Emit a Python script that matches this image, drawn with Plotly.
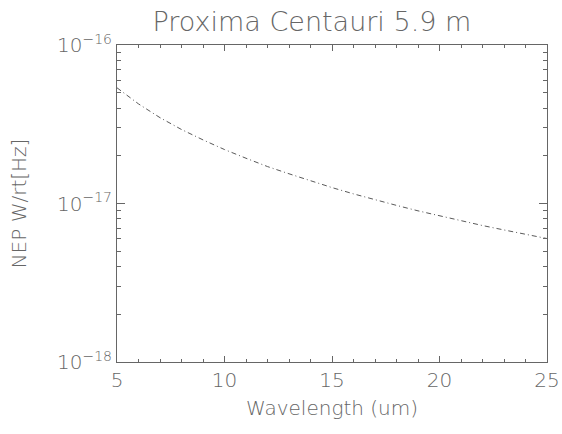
import plotly.graph_objects as go

wavelength = [5, 6, 7, 8, 9, 10, 11, 12, 13, 14, 15, 16, 17, 18, 19, 20, 21, 22, 23, 24, 25]
nep_e17 = [5.37, 4.25, 3.48, 2.93, 2.52, 2.19, 1.93, 1.71, 1.54, 1.39, 1.26, 1.15,
           1.054, 0.973, 0.899, 0.836, 0.778, 0.726, 0.681, 0.638, 0.601]
nep = [v * 1e-17 for v in nep_e17]

x_ticks = [5, 10, 15, 20, 25]
y_ticks = [1e-18, 1e-17, 1e-16]
y_ticktext = ["10<sup>−18</sup>", "10<sup>−17</sup>", "10<sup>−16</sup>"]

title_text = "Proxima Centauri 5.9 m"
x_title = "Wavelength (um)"
y_title = "NEP W/rt[Hz]"

gray = "#666666"
font_family = "DejaVu Sans"

fig = go.Figure()
fig.add_trace(go.Scatter(
    x=wavelength, y=nep, mode="lines",
    line=dict(color="#5a5a5a", width=1, dash="5px,3px,1px,3px"),
    showlegend=False, hoverinfo="skip",
))

fig.update_layout(
    width=562, height=434,
    margin=dict(l=117, r=15, t=45, b=72),
    paper_bgcolor="white", plot_bgcolor="white",
    font=dict(family=font_family, color=gray, size=20, weight=200),
    title=dict(text=title_text, x=0.555, xanchor="center", y=0.95, yanchor="middle",
               font=dict(size=27, color=gray, family=font_family, weight=200)),
)

fig.update_xaxes(
    range=[5, 25], tickvals=x_ticks, ticktext=[str(v) for v in x_ticks],
    showline=True, linecolor=gray, linewidth=1, mirror="ticks",
    ticks="inside", ticklen=6, tickcolor=gray, tickwidth=1,
    minor=dict(ticks="inside", dtick=1, ticklen=3, tickcolor=gray, showgrid=False),
    showgrid=False, zeroline=False, ticklabeloverflow="allow", automargin=False,
    tickfont=dict(size=20, color=gray),
    title=dict(text=x_title, font=dict(size=20, color=gray), standoff=9),
)
fig.update_yaxes(
    type="log", range=[-18, -16], tickvals=y_ticks, ticktext=y_ticktext,
    showline=True, linecolor=gray, linewidth=1, mirror="ticks",
    ticks="inside", ticklen=8, tickcolor=gray, tickwidth=1,
    minor=dict(ticks="inside", ticklen=4, tickcolor=gray, dtick="D1", showgrid=False),
    showgrid=False, zeroline=False, ticklabeloverflow="allow", automargin=False,
    tickfont=dict(size=20, color=gray),
    title=dict(text=y_title, font=dict(size=20, color=gray), standoff=25),
)

fig.write_html("out.html", config={"displayModeBar": False},
               post_script="document.body.style.margin='0';document.body.style.overflow='hidden';")
